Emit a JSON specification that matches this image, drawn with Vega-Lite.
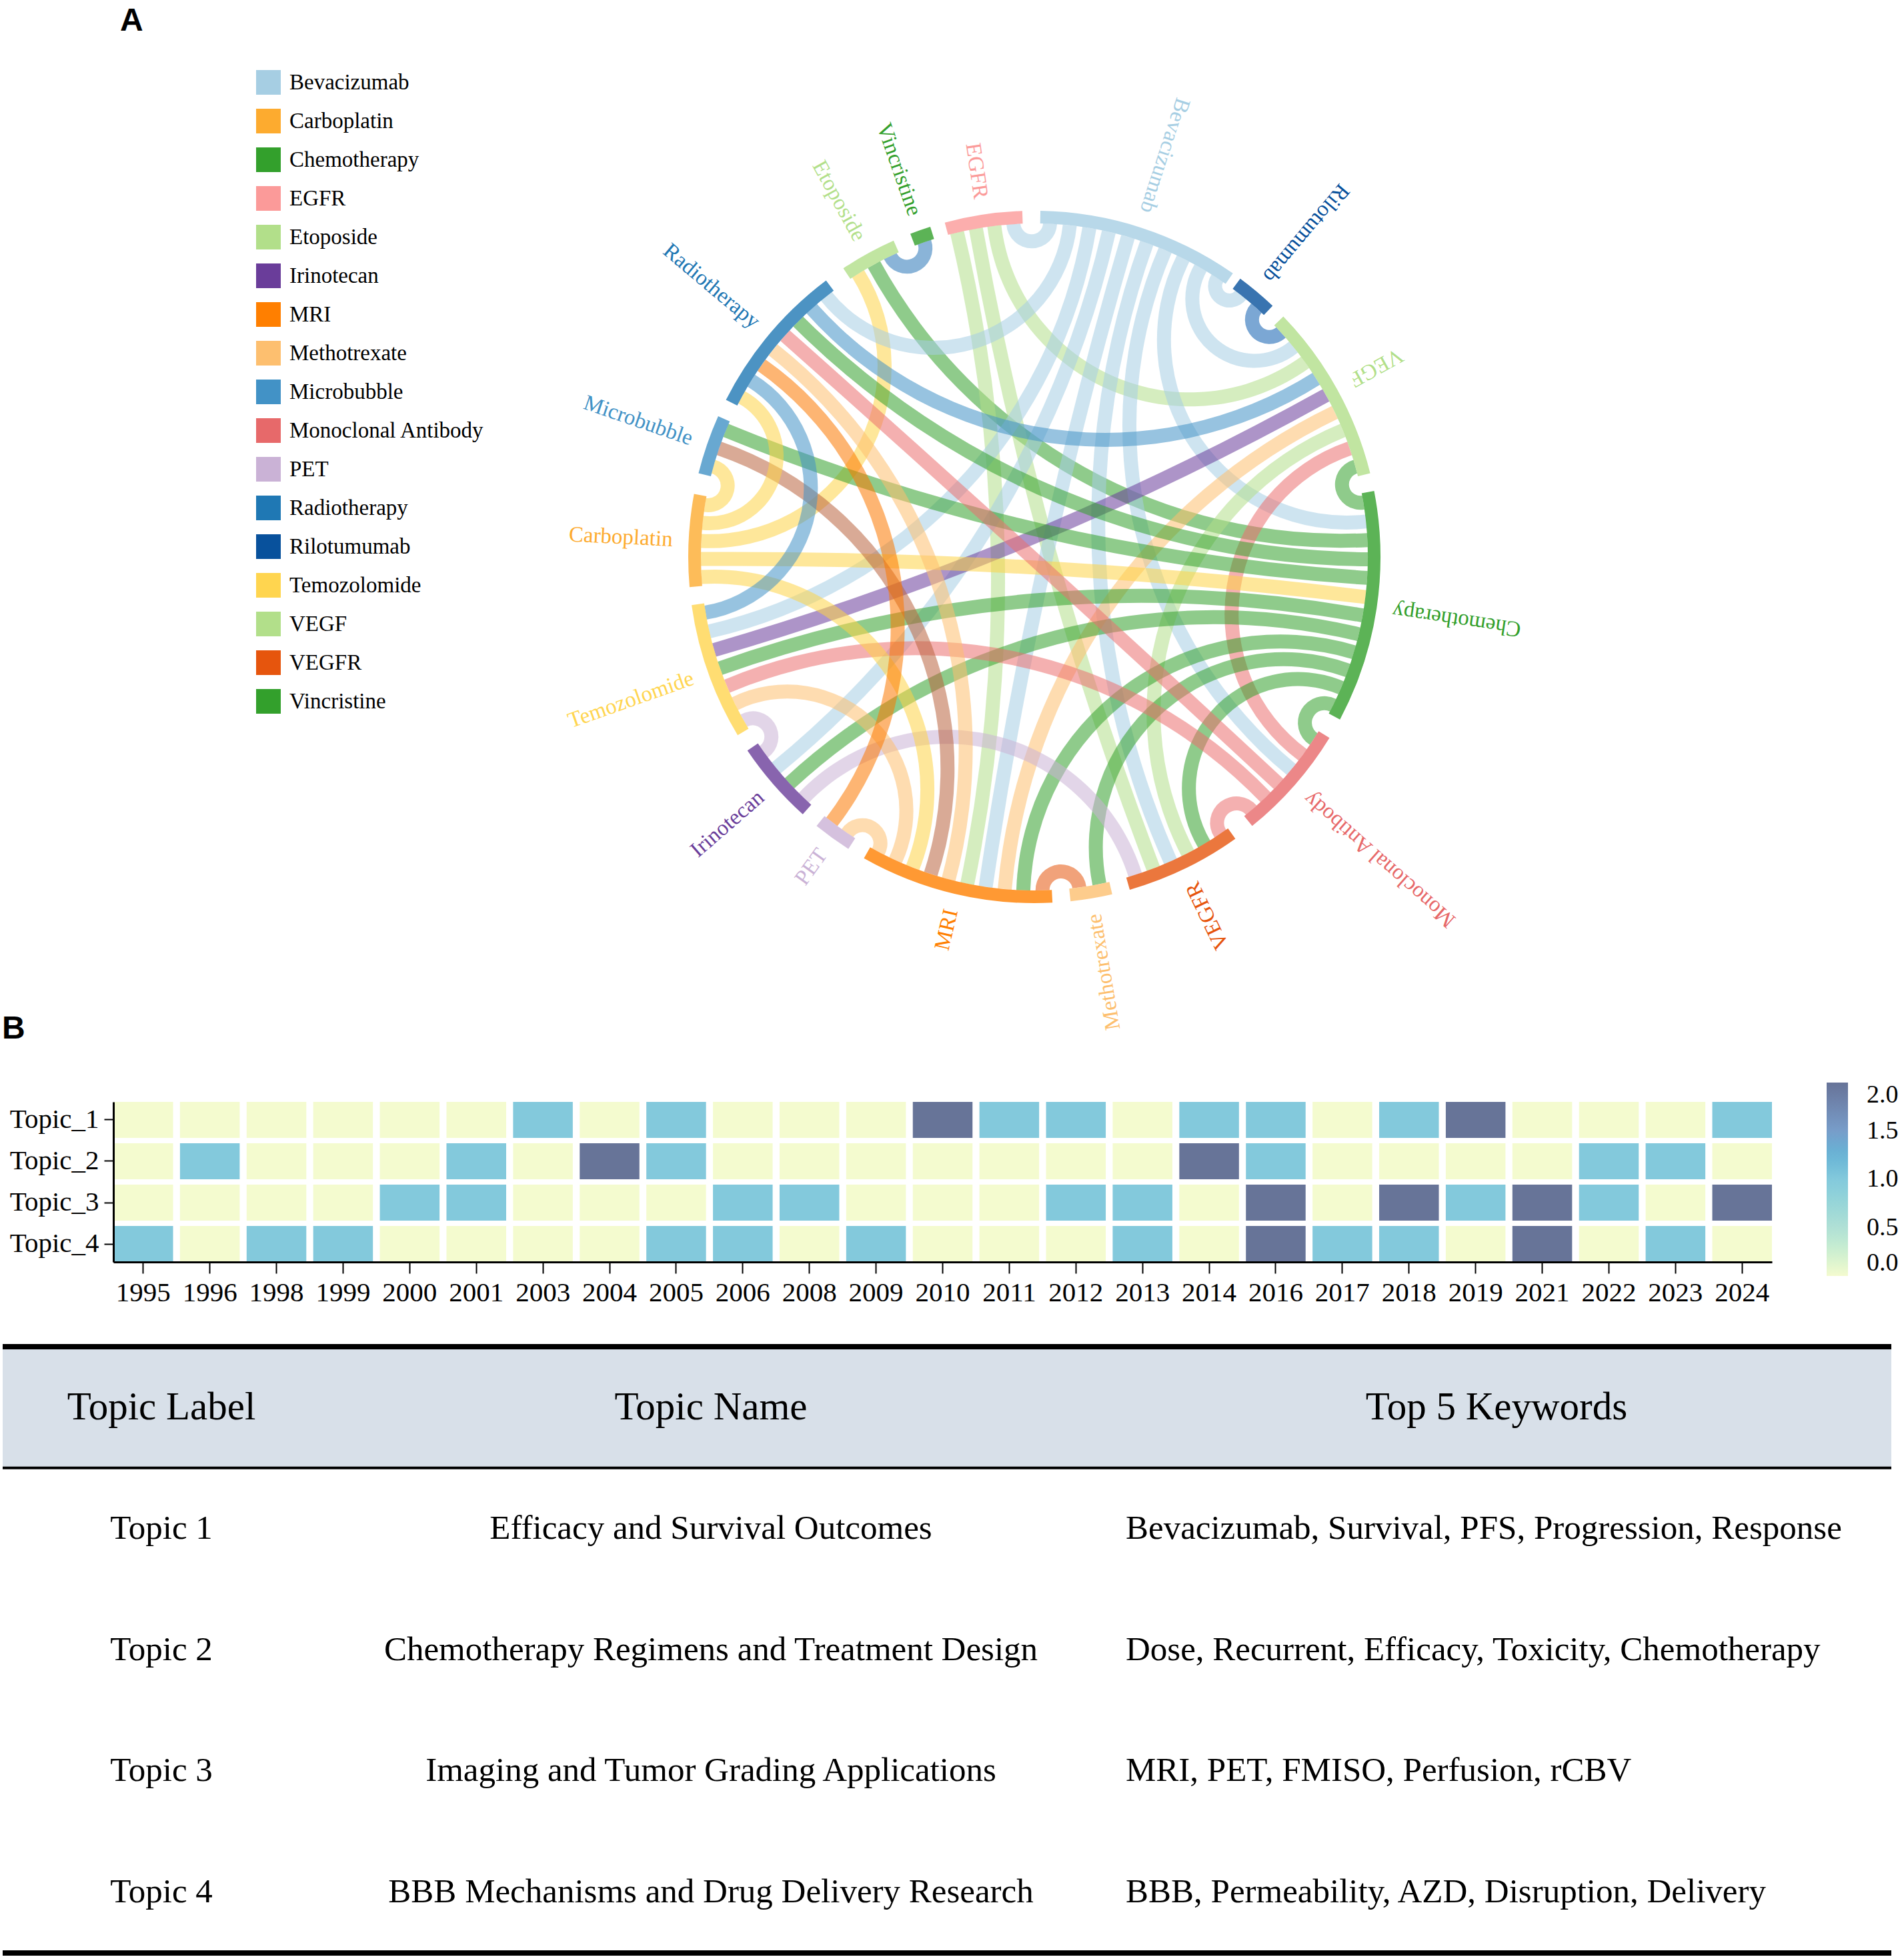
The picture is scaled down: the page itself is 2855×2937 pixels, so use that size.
{
  "$schema": "https://vega.github.io/schema/vega-lite/v6.json",
  "padding": 0,
  "spacing": 0,
  "bounds": "flush",
  "background": "white",
  "config": {
    "view": {"stroke": null},
    "font": "Liberation Serif",
    "axis": {"labelFont": "Liberation Serif", "grid": false},
    "legend": {"labelFont": "Liberation Serif"}
  },
  "datasets": {
    "nodes": [
      {"name": "EGFR", "a0": 345, "a1": 358},
      {"name": "Bevacizumab", "a0": 1, "a1": 35},
      {"name": "Rilotumumab", "a0": 36.5, "a1": 43.5},
      {"name": "VEGF", "a0": 46, "a1": 76},
      {"name": "Chemotherapy", "a0": 79, "a1": 118},
      {"name": "Monoclonal Antibody", "a0": 121.5, "a1": 141},
      {"name": "VEGFR", "a0": 144.5, "a1": 164},
      {"name": "Methotrexate", "a0": 167, "a1": 174},
      {"name": "MRI", "a0": 177, "a1": 209.5},
      {"name": "PET", "a0": 212.5, "a1": 219},
      {"name": "Irinotecan", "a0": 222, "a1": 236},
      {"name": "Temozolomide", "a0": 239, "a1": 262},
      {"name": "Carboplatin", "a0": 265, "a1": 280.5},
      {"name": "Microbubble", "a0": 284, "a1": 294},
      {"name": "Radiotherapy", "a0": 297, "a1": 323},
      {"name": "Etoposide", "a0": 326.5, "a1": 336},
      {"name": "Vincristine", "a0": 339, "a1": 342.5}
    ],
    "chords": [
      {"from": "Etoposide", "to": "Vincristine", "a1": 334.4, "a2": 340.75, "tone": "Radiotherapy"},
      {"from": "Etoposide", "to": "Chemotherapy", "a1": 331.25, "a2": 87.1, "tone": "Chemotherapy"},
      {"from": "Etoposide", "to": "Carboplatin", "a1": 328.1, "a2": 272.75, "tone": "Temozolomide"},
      {"from": "EGFR", "to": "MRI", "a1": 346.6, "a2": 191.6, "tone": "VEGF"},
      {"from": "EGFR", "to": "VEGFR", "a1": 349.9, "a2": 159.1, "tone": "VEGF"},
      {"from": "EGFR", "to": "VEGF", "a1": 353.1, "a2": 54.3, "tone": "VEGF"},
      {"from": "EGFR", "to": "Bevacizumab", "a1": 356.4, "a2": 2.7, "tone": "Bevacizumab"},
      {"from": "Bevacizumab", "to": "Radiotherapy", "a1": 6.1, "a2": 321.4, "tone": "Bevacizumab"},
      {"from": "Bevacizumab", "to": "Temozolomide", "a1": 9.5, "a2": 257.1, "tone": "Bevacizumab"},
      {"from": "Bevacizumab", "to": "Irinotecan", "a1": 12.9, "a2": 230.75, "tone": "Bevacizumab"},
      {"from": "Bevacizumab", "to": "MRI", "a1": 16.3, "a2": 188.4, "tone": "Bevacizumab"},
      {"from": "Bevacizumab", "to": "VEGFR", "a1": 19.7, "a2": 155.9, "tone": "Bevacizumab"},
      {"from": "Bevacizumab", "to": "Monoclonal Antibody", "a1": 23.1, "a2": 129.6, "tone": "Bevacizumab"},
      {"from": "Bevacizumab", "to": "Chemotherapy", "a1": 26.5, "a2": 83.9, "tone": "Bevacizumab"},
      {"from": "Bevacizumab", "to": "VEGF", "a1": 29.9, "a2": 51, "tone": "Bevacizumab"},
      {"from": "Bevacizumab", "to": "Rilotumumab", "a1": 33.3, "a2": 38.25, "tone": "Bevacizumab"},
      {"from": "Rilotumumab", "to": "VEGF", "a1": 41.75, "a2": 47.7, "tone": "Rilotumumab"},
      {"from": "VEGF", "to": "Radiotherapy", "a1": 57.7, "a2": 318.1, "tone": "Microbubble"},
      {"from": "VEGF", "to": "Temozolomide", "a1": 61, "a2": 253.8, "tone": "Irinotecan"},
      {"from": "VEGF", "to": "MRI", "a1": 64.3, "a2": 185.1, "tone": "Methotrexate"},
      {"from": "VEGF", "to": "VEGFR", "a1": 67.7, "a2": 152.6, "tone": "VEGF"},
      {"from": "VEGF", "to": "Monoclonal Antibody", "a1": 71, "a2": 126.4, "tone": "Monoclonal Antibody"},
      {"from": "VEGF", "to": "Chemotherapy", "a1": 74.3, "a2": 80.6, "tone": "Chemotherapy"},
      {"from": "Chemotherapy", "to": "Radiotherapy", "a1": 90.4, "a2": 314.9, "tone": "Chemotherapy"},
      {"from": "Chemotherapy", "to": "Microbubble", "a1": 93.6, "a2": 292.3, "tone": "Chemotherapy"},
      {"from": "Chemotherapy", "to": "Carboplatin", "a1": 96.9, "a2": 269.65, "tone": "Temozolomide"},
      {"from": "Chemotherapy", "to": "Temozolomide", "a1": 100.1, "a2": 250.5, "tone": "Chemotherapy"},
      {"from": "Chemotherapy", "to": "Irinotecan", "a1": 103.4, "a2": 227.25, "tone": "Chemotherapy"},
      {"from": "Chemotherapy", "to": "MRI", "a1": 106.6, "a2": 181.9, "tone": "Chemotherapy"},
      {"from": "Chemotherapy", "to": "Methotrexate", "a1": 109.9, "a2": 168.75, "tone": "Chemotherapy"},
      {"from": "Chemotherapy", "to": "VEGFR", "a1": 113.1, "a2": 149.4, "tone": "Chemotherapy"},
      {"from": "Chemotherapy", "to": "Monoclonal Antibody", "a1": 116.4, "a2": 123.1, "tone": "Chemotherapy"},
      {"from": "Monoclonal Antibody", "to": "Radiotherapy", "a1": 132.9, "a2": 311.6, "tone": "Monoclonal Antibody"},
      {"from": "Monoclonal Antibody", "to": "Temozolomide", "a1": 136.1, "a2": 247.2, "tone": "Monoclonal Antibody"},
      {"from": "Monoclonal Antibody", "to": "VEGFR", "a1": 139.4, "a2": 146.1, "tone": "Monoclonal Antibody"},
      {"from": "VEGFR", "to": "Irinotecan", "a1": 162.4, "a2": 223.75, "tone": "PET"},
      {"from": "Methotrexate", "to": "MRI", "a1": 172.25, "a2": 178.6, "tone": "VEGFR"},
      {"from": "MRI", "to": "Radiotherapy", "a1": 194.9, "a2": 308.4, "tone": "Methotrexate"},
      {"from": "MRI", "to": "Microbubble", "a1": 198.1, "a2": 289, "tone": "MRI-Microbubble"},
      {"from": "MRI", "to": "Carboplatin", "a1": 201.4, "a2": 266.55, "tone": "Temozolomide"},
      {"from": "MRI", "to": "Temozolomide", "a1": 204.6, "a2": 243.9, "tone": "Methotrexate"},
      {"from": "MRI", "to": "PET", "a1": 207.9, "a2": 214.1, "tone": "Methotrexate"},
      {"from": "PET", "to": "Radiotherapy", "a1": 217.4, "a2": 305.1, "tone": "MRI"},
      {"from": "Irinotecan", "to": "Temozolomide", "a1": 234.25, "a2": 240.6, "tone": "PET"},
      {"from": "Temozolomide", "to": "Radiotherapy", "a1": 260.4, "a2": 301.9, "tone": "Microbubble"},
      {"from": "Carboplatin", "to": "Radiotherapy", "a1": 275.85, "a2": 298.6, "tone": "Temozolomide"},
      {"from": "Carboplatin", "to": "Microbubble", "a1": 278.95, "a2": 285.7, "tone": "Temozolomide"}
    ],
    "heat": [
      {"topic": "Topic_1", "year": "1995", "value": 0}, {"topic": "Topic_1", "year": "1996", "value": 0}, {"topic": "Topic_1", "year": "1998", "value": 0}, {"topic": "Topic_1", "year": "1999", "value": 0}, {"topic": "Topic_1", "year": "2000", "value": 0}, {"topic": "Topic_1", "year": "2001", "value": 0}, {"topic": "Topic_1", "year": "2003", "value": 1}, {"topic": "Topic_1", "year": "2004", "value": 0}, {"topic": "Topic_1", "year": "2005", "value": 1}, {"topic": "Topic_1", "year": "2006", "value": 0}, {"topic": "Topic_1", "year": "2008", "value": 0}, {"topic": "Topic_1", "year": "2009", "value": 0}, {"topic": "Topic_1", "year": "2010", "value": 2}, {"topic": "Topic_1", "year": "2011", "value": 1}, {"topic": "Topic_1", "year": "2012", "value": 1}, {"topic": "Topic_1", "year": "2013", "value": 0}, {"topic": "Topic_1", "year": "2014", "value": 1}, {"topic": "Topic_1", "year": "2016", "value": 1}, {"topic": "Topic_1", "year": "2017", "value": 0}, {"topic": "Topic_1", "year": "2018", "value": 1}, {"topic": "Topic_1", "year": "2019", "value": 2}, {"topic": "Topic_1", "year": "2021", "value": 0}, {"topic": "Topic_1", "year": "2022", "value": 0}, {"topic": "Topic_1", "year": "2023", "value": 0}, {"topic": "Topic_1", "year": "2024", "value": 1},
      {"topic": "Topic_2", "year": "1995", "value": 0}, {"topic": "Topic_2", "year": "1996", "value": 1}, {"topic": "Topic_2", "year": "1998", "value": 0}, {"topic": "Topic_2", "year": "1999", "value": 0}, {"topic": "Topic_2", "year": "2000", "value": 0}, {"topic": "Topic_2", "year": "2001", "value": 1}, {"topic": "Topic_2", "year": "2003", "value": 0}, {"topic": "Topic_2", "year": "2004", "value": 2}, {"topic": "Topic_2", "year": "2005", "value": 1}, {"topic": "Topic_2", "year": "2006", "value": 0}, {"topic": "Topic_2", "year": "2008", "value": 0}, {"topic": "Topic_2", "year": "2009", "value": 0}, {"topic": "Topic_2", "year": "2010", "value": 0}, {"topic": "Topic_2", "year": "2011", "value": 0}, {"topic": "Topic_2", "year": "2012", "value": 0}, {"topic": "Topic_2", "year": "2013", "value": 0}, {"topic": "Topic_2", "year": "2014", "value": 2}, {"topic": "Topic_2", "year": "2016", "value": 1}, {"topic": "Topic_2", "year": "2017", "value": 0}, {"topic": "Topic_2", "year": "2018", "value": 0}, {"topic": "Topic_2", "year": "2019", "value": 0}, {"topic": "Topic_2", "year": "2021", "value": 0}, {"topic": "Topic_2", "year": "2022", "value": 1}, {"topic": "Topic_2", "year": "2023", "value": 1}, {"topic": "Topic_2", "year": "2024", "value": 0},
      {"topic": "Topic_3", "year": "1995", "value": 0}, {"topic": "Topic_3", "year": "1996", "value": 0}, {"topic": "Topic_3", "year": "1998", "value": 0}, {"topic": "Topic_3", "year": "1999", "value": 0}, {"topic": "Topic_3", "year": "2000", "value": 1}, {"topic": "Topic_3", "year": "2001", "value": 1}, {"topic": "Topic_3", "year": "2003", "value": 0}, {"topic": "Topic_3", "year": "2004", "value": 0}, {"topic": "Topic_3", "year": "2005", "value": 0}, {"topic": "Topic_3", "year": "2006", "value": 1}, {"topic": "Topic_3", "year": "2008", "value": 1}, {"topic": "Topic_3", "year": "2009", "value": 0}, {"topic": "Topic_3", "year": "2010", "value": 0}, {"topic": "Topic_3", "year": "2011", "value": 0}, {"topic": "Topic_3", "year": "2012", "value": 1}, {"topic": "Topic_3", "year": "2013", "value": 1}, {"topic": "Topic_3", "year": "2014", "value": 0}, {"topic": "Topic_3", "year": "2016", "value": 2}, {"topic": "Topic_3", "year": "2017", "value": 0}, {"topic": "Topic_3", "year": "2018", "value": 2}, {"topic": "Topic_3", "year": "2019", "value": 1}, {"topic": "Topic_3", "year": "2021", "value": 2}, {"topic": "Topic_3", "year": "2022", "value": 1}, {"topic": "Topic_3", "year": "2023", "value": 0}, {"topic": "Topic_3", "year": "2024", "value": 2},
      {"topic": "Topic_4", "year": "1995", "value": 1}, {"topic": "Topic_4", "year": "1996", "value": 0}, {"topic": "Topic_4", "year": "1998", "value": 1}, {"topic": "Topic_4", "year": "1999", "value": 1}, {"topic": "Topic_4", "year": "2000", "value": 0}, {"topic": "Topic_4", "year": "2001", "value": 0}, {"topic": "Topic_4", "year": "2003", "value": 0}, {"topic": "Topic_4", "year": "2004", "value": 0}, {"topic": "Topic_4", "year": "2005", "value": 1}, {"topic": "Topic_4", "year": "2006", "value": 1}, {"topic": "Topic_4", "year": "2008", "value": 0}, {"topic": "Topic_4", "year": "2009", "value": 1}, {"topic": "Topic_4", "year": "2010", "value": 0}, {"topic": "Topic_4", "year": "2011", "value": 0}, {"topic": "Topic_4", "year": "2012", "value": 0}, {"topic": "Topic_4", "year": "2013", "value": 1}, {"topic": "Topic_4", "year": "2014", "value": 0}, {"topic": "Topic_4", "year": "2016", "value": 2}, {"topic": "Topic_4", "year": "2017", "value": 1}, {"topic": "Topic_4", "year": "2018", "value": 1}, {"topic": "Topic_4", "year": "2019", "value": 0}, {"topic": "Topic_4", "year": "2021", "value": 2}, {"topic": "Topic_4", "year": "2022", "value": 0}, {"topic": "Topic_4", "year": "2023", "value": 1}, {"topic": "Topic_4", "year": "2024", "value": 0}
    ],
    "table": [
      {"row": "Header", "label": "Topic Label", "name": "Topic Name", "keywords": "Top 5 Keywords"},
      {"row": "Topic 1", "label": "Topic 1", "name": "Efficacy and Survival Outcomes", "keywords": "Bevacizumab, Survival, PFS, Progression, Response"},
      {"row": "Topic 2", "label": "Topic 2", "name": "Chemotherapy Regimens and Treatment Design", "keywords": "Dose, Recurrent, Efficacy, Toxicity, Chemotherapy"},
      {"row": "Topic 3", "label": "Topic 3", "name": "Imaging and Tumor Grading Applications", "keywords": "MRI, PET, FMISO, Perfusion, rCBV"},
      {"row": "Topic 4", "label": "Topic 4", "name": "BBB Mechanisms and Drug Delivery Research", "keywords": "BBB, Permeability, AZD, Disruption, Delivery"}
    ]
  },
  "vconcat": [
    {
      "width": 2855,
      "height": 1652,
      "title": {"text": "A", "anchor": "start", "frame": "group", "offset": -56, "dx": 176, "font": "Liberation Sans", "fontSize": 48, "fontWeight": "bold", "color": "black"},
      "resolve": {"scale": {"color": "independent"}},
      "layer": [
        {
          "data": {"name": "chords"},
          "transform": [
            {"calculate": "min(datum.a1, datum.a2)", "as": "lo"},
            {"calculate": "max(datum.a1, datum.a2)", "as": "hi"},
            {"calculate": "datum.hi - datum.lo", "as": "raw"},
            {"calculate": "datum.raw <= 180 ? datum.raw : 360 - datum.raw", "as": "delta"},
            {"calculate": "datum.raw <= 180 ? (datum.lo + datum.hi) / 2 : (datum.lo + datum.hi) / 2 + 180", "as": "phi"},
            {"calculate": "datum.delta / 2 * PI / 180", "as": "h"},
            {"calculate": "sin(datum.phi * PI / 180) / cos(datum.h)", "as": "cx"},
            {"calculate": "cos(datum.phi * PI / 180) / cos(datum.h)", "as": "cy"},
            {"calculate": "tan(datum.h) + 0.021", "as": "ro"},
            {"calculate": "tan(datum.h) - 0.021", "as": "ri"},
            {"calculate": "datum.phi + 90 + datum.delta / 2", "as": "t0"},
            {"calculate": "datum.phi + 270 - datum.delta / 2", "as": "t1"}
          ],
          "mark": {"type": "arc", "opacity": 0.55},
          "encoding": {
            "x": {"field": "cx", "type": "quantitative", "scale": {"domain": [-3.094, 2.616], "nice": false, "zero": false}, "axis": null},
            "y": {"field": "cy", "type": "quantitative", "scale": {"domain": [-1.634, 1.67], "nice": false, "zero": false}, "axis": null},
            "theta": {"field": "t0", "type": "quantitative", "scale": {"type": "linear", "domain": [0, 360], "range": [0, 6.283185307179586], "zero": false, "nice": false}},
            "theta2": {"field": "t1"},
            "radius": {"field": "ro", "type": "quantitative", "scale": {"type": "linear", "domain": [0, 1], "range": [0, 500], "zero": true, "nice": false}},
            "radius2": {"field": "ri"},
            "color": {
              "field": "tone", "type": "nominal", "legend": null,
              "scale": {
                "domain": ["Bevacizumab", "Chemotherapy", "VEGF", "Temozolomide", "Irinotecan", "Methotrexate", "Monoclonal Antibody", "PET", "Microbubble", "Radiotherapy", "Rilotumumab", "VEGFR", "MRI", "MRI-Microbubble"],
                "range": ["#a6cee3", "#33a02c", "#b2df8a", "#fdd347", "#6a3d9a", "#fdbf6f", "#eb6f6f", "#cab2d6", "#4292c6", "#2a77b8", "#0f5fb1", "#e6550d", "#fb7800", "#b9653f"]
              }
            }
          }
        },
        {
          "data": {"name": "nodes"},
          "mark": {"type": "arc", "radius": 519, "radius2": 500, "opacity": 0.8},
          "encoding": {
            "x": {"datum": 0, "type": "quantitative", "scale": {"domain": [-3.094, 2.616], "nice": false, "zero": false}, "axis": null},
            "y": {"datum": 0, "type": "quantitative", "scale": {"domain": [-1.634, 1.67], "nice": false, "zero": false}, "axis": null},
            "theta": {"field": "a0", "type": "quantitative", "scale": {"type": "linear", "domain": [0, 360], "range": [0, 6.283185307179586], "zero": false, "nice": false}},
            "theta2": {"field": "a1"},
            "color": {
              "field": "name", "type": "nominal",
              "scale": {
                "domain": ["Bevacizumab", "Carboplatin", "Chemotherapy", "EGFR", "Etoposide", "Irinotecan", "MRI", "Methotrexate", "Microbubble", "Monoclonal Antibody", "PET", "Radiotherapy", "Rilotumumab", "Temozolomide", "VEGF", "VEGFR", "Vincristine"],
                "range": ["#a6cee3", "#fdab2f", "#33a02c", "#fb9a99", "#b2df8a", "#6a3d9a", "#ff7f00", "#fdbf6f", "#4292c6", "#e7696a", "#cab2d6", "#1f78b4", "#08519c", "#ffd54f", "#b2df8a", "#e6550d", "#33a02c"]
              },
              "legend": {
                "orient": "none", "legendX": 380, "legendY": 105, "direction": "vertical",
                "title": null, "symbolType": "square", "symbolSize": 1369, "symbolOpacity": 1,
                "symbolStrokeWidth": 0, "labelFont": "Liberation Serif", "labelFontSize": 33,
                "labelColor": "black", "labelOffset": 13, "rowPadding": 21, "labelLimit": 800
              }
            }
          }
        },
        {
          "data": {"name": "nodes"},
          "transform": [
            {"calculate": "(datum.a0 + datum.a1) / 2", "as": "mid"},
            {"calculate": "1.086 * sin(datum.mid * PI / 180)", "as": "lx"},
            {"calculate": "1.086 * cos(datum.mid * PI / 180)", "as": "ly"},
            {"calculate": "(datum.mid + 90) % 360", "as": "ta"}
          ],
          "mark": {"type": "text", "align": "right", "baseline": "middle", "font": "Liberation Serif", "fontSize": 33},
          "encoding": {
            "x": {"field": "lx", "type": "quantitative", "scale": {"domain": [-3.094, 2.616], "nice": false, "zero": false}, "axis": null},
            "y": {"field": "ly", "type": "quantitative", "scale": {"domain": [-1.634, 1.67], "nice": false, "zero": false}, "axis": null},
            "angle": {"field": "ta", "type": "quantitative", "scale": {"domain": [0, 360], "range": [0, 360]}},
            "text": {"field": "name"},
            "color": {
              "field": "name", "type": "nominal", "legend": null,
              "scale": {
                "domain": ["Bevacizumab", "Carboplatin", "Chemotherapy", "EGFR", "Etoposide", "Irinotecan", "MRI", "Methotrexate", "Microbubble", "Monoclonal Antibody", "PET", "Radiotherapy", "Rilotumumab", "Temozolomide", "VEGF", "VEGFR", "Vincristine"],
                "range": ["#a6cee3", "#fdab2f", "#33a02c", "#fb9a99", "#b2df8a", "#6a3d9a", "#ff7f00", "#fdbf6f", "#4292c6", "#e7696a", "#cab2d6", "#1f78b4", "#08519c", "#ffd54f", "#b2df8a", "#e6550d", "#33a02c"]
              }
            }
          }
        }
      ]
    },
    {
      "width": 2855,
      "height": 240,
      "title": {"text": "B", "anchor": "start", "frame": "group", "offset": 85, "dx": -1, "font": "Liberation Sans", "fontSize": 48, "fontWeight": "bold", "color": "black"},
      "data": {"name": "heat"},
      "mark": {"type": "rect", "opacity": 0.615},
      "encoding": {
        "x": {
          "field": "year", "type": "ordinal",
          "scale": {"range": [166, 2653], "paddingInner": 0.104, "paddingOuter": 0},
          "axis": {"title": null, "labelAngle": 0, "labelFont": "Liberation Serif", "labelFontSize": 41, "labelColor": "black", "domainColor": "black", "domainWidth": 3, "tickColor": "black", "tickWidth": 2, "tickSize": 17, "labelPadding": 9}
        },
        "y": {
          "field": "topic", "type": "nominal",
          "scale": {"paddingInner": 0.13, "paddingOuter": 0},
          "axis": {"title": null, "offset": -166, "labelFont": "Liberation Serif", "labelFontSize": 41, "labelColor": "black", "domainColor": "black", "domainWidth": 3, "tickColor": "black", "tickWidth": 2, "tickSize": 14, "labelPadding": 8}
        },
        "color": {
          "field": "value", "type": "quantitative",
          "scale": {"domain": [0, 0.5, 1, 1.5, 2], "range": ["#edf8b1", "#7fcdbb", "#36a8c6", "#2260a8", "#081d58"]},
          "legend": {
            "orient": "none", "legendX": 2735, "legendY": 1623, "direction": "vertical", "title": null,
            "gradientLength": 290, "gradientThickness": 32, "gradientStrokeWidth": 0,
            "labelFont": "Liberation Serif", "labelFontSize": 38, "labelColor": "black",
            "values": [0, 0.5, 1, 1.5, 2], "format": ".1f", "labelOverlap": false, "labelOffset": 28
          }
        }
      }
    },
    {
      "hconcat": [
        {
          "width": 476,
          "height": 1045,
          "data": {"name": "table"},
          "layer": [
            {"transform": [{"filter": "datum.row === 'Header'"}], "mark": {"type": "rect", "color": "#d8e0e9"}, "encoding": {"y": {"field": "row", "type": "nominal", "scale": {"domain": ["Header", "Topic 1", "Topic 2", "Topic 3", "Topic 4"], "range": [127, 1036], "paddingInner": 0, "paddingOuter": 0}, "axis": null}}},
            {"transform": [{"filter": "datum.row === 'Header'"}], "mark": {"type": "rule", "color": "black", "strokeWidth": 8}, "encoding": {"y": {"datum": "Header", "type": "nominal", "bandPosition": 0}}},
            {"transform": [{"filter": "datum.row === 'Header'"}], "mark": {"type": "rule", "color": "black", "strokeWidth": 4}, "encoding": {"y": {"datum": "Topic 1", "type": "nominal", "bandPosition": 0}}},
            {"transform": [{"filter": "datum.row === 'Header'"}], "mark": {"type": "rule", "color": "black", "strokeWidth": 8}, "encoding": {"y": {"datum": "Topic 4", "type": "nominal", "bandPosition": 1}}},
            {"transform": [{"filter": "datum.row === 'Header'"}], "mark": {"type": "text", "font": "Liberation Serif", "fontSize": 59, "color": "black", "baseline": "middle"}, "encoding": {"y": {"field": "row", "type": "nominal"}, "text": {"field": "label"}}},
            {"transform": [{"filter": "datum.row !== 'Header'"}], "mark": {"type": "text", "font": "Liberation Serif", "fontSize": 51, "color": "black", "baseline": "middle"}, "encoding": {"y": {"field": "row", "type": "nominal"}, "text": {"field": "label"}}}
          ]
        },
        {
          "width": 1208,
          "height": 1045,
          "data": {"name": "table"},
          "layer": [
            {"transform": [{"filter": "datum.row === 'Header'"}], "mark": {"type": "rect", "color": "#d8e0e9"}, "encoding": {"y": {"field": "row", "type": "nominal", "scale": {"domain": ["Header", "Topic 1", "Topic 2", "Topic 3", "Topic 4"], "range": [127, 1036], "paddingInner": 0, "paddingOuter": 0}, "axis": null}}},
            {"transform": [{"filter": "datum.row === 'Header'"}], "mark": {"type": "rule", "color": "black", "strokeWidth": 8}, "encoding": {"y": {"datum": "Header", "type": "nominal", "bandPosition": 0}}},
            {"transform": [{"filter": "datum.row === 'Header'"}], "mark": {"type": "rule", "color": "black", "strokeWidth": 4}, "encoding": {"y": {"datum": "Topic 1", "type": "nominal", "bandPosition": 0}}},
            {"transform": [{"filter": "datum.row === 'Header'"}], "mark": {"type": "rule", "color": "black", "strokeWidth": 8}, "encoding": {"y": {"datum": "Topic 4", "type": "nominal", "bandPosition": 1}}},
            {"transform": [{"filter": "datum.row === 'Header'"}], "mark": {"type": "text", "font": "Liberation Serif", "fontSize": 59, "color": "black", "baseline": "middle", "dx": -18}, "encoding": {"y": {"field": "row", "type": "nominal"}, "text": {"field": "name"}}},
            {"transform": [{"filter": "datum.row !== 'Header'"}], "mark": {"type": "text", "font": "Liberation Serif", "fontSize": 51, "color": "black", "baseline": "middle", "dx": -18}, "encoding": {"y": {"field": "row", "type": "nominal"}, "text": {"field": "name"}}}
          ]
        },
        {
          "width": 1148,
          "height": 1045,
          "data": {"name": "table"},
          "layer": [
            {"transform": [{"filter": "datum.row === 'Header'"}], "mark": {"type": "rect", "color": "#d8e0e9"}, "encoding": {"y": {"field": "row", "type": "nominal", "scale": {"domain": ["Header", "Topic 1", "Topic 2", "Topic 3", "Topic 4"], "range": [127, 1036], "paddingInner": 0, "paddingOuter": 0}, "axis": null}}},
            {"transform": [{"filter": "datum.row === 'Header'"}], "mark": {"type": "rule", "color": "black", "strokeWidth": 8}, "encoding": {"y": {"datum": "Header", "type": "nominal", "bandPosition": 0}}},
            {"transform": [{"filter": "datum.row === 'Header'"}], "mark": {"type": "rule", "color": "black", "strokeWidth": 4}, "encoding": {"y": {"datum": "Topic 1", "type": "nominal", "bandPosition": 0}}},
            {"transform": [{"filter": "datum.row === 'Header'"}], "mark": {"type": "rule", "color": "black", "strokeWidth": 8}, "encoding": {"y": {"datum": "Topic 4", "type": "nominal", "bandPosition": 1}}},
            {"transform": [{"filter": "datum.row === 'Header'"}], "mark": {"type": "text", "font": "Liberation Serif", "fontSize": 59, "color": "black", "baseline": "middle", "dx": -18}, "encoding": {"y": {"field": "row", "type": "nominal"}, "text": {"field": "keywords"}}},
            {"transform": [{"filter": "datum.row !== 'Header'"}], "mark": {"type": "text", "font": "Liberation Serif", "fontSize": 51, "color": "black", "baseline": "middle", "align": "left"}, "encoding": {"x": {"datum": "kw", "type": "nominal", "bandPosition": 0, "scale": {"type": "band", "paddingInner": 0, "paddingOuter": 0}, "axis": null}, "y": {"field": "row", "type": "nominal"}, "text": {"field": "keywords"}}}
          ]
        }
      ],
      "spacing": 0,
      "bounds": "flush"
    }
  ]
}
